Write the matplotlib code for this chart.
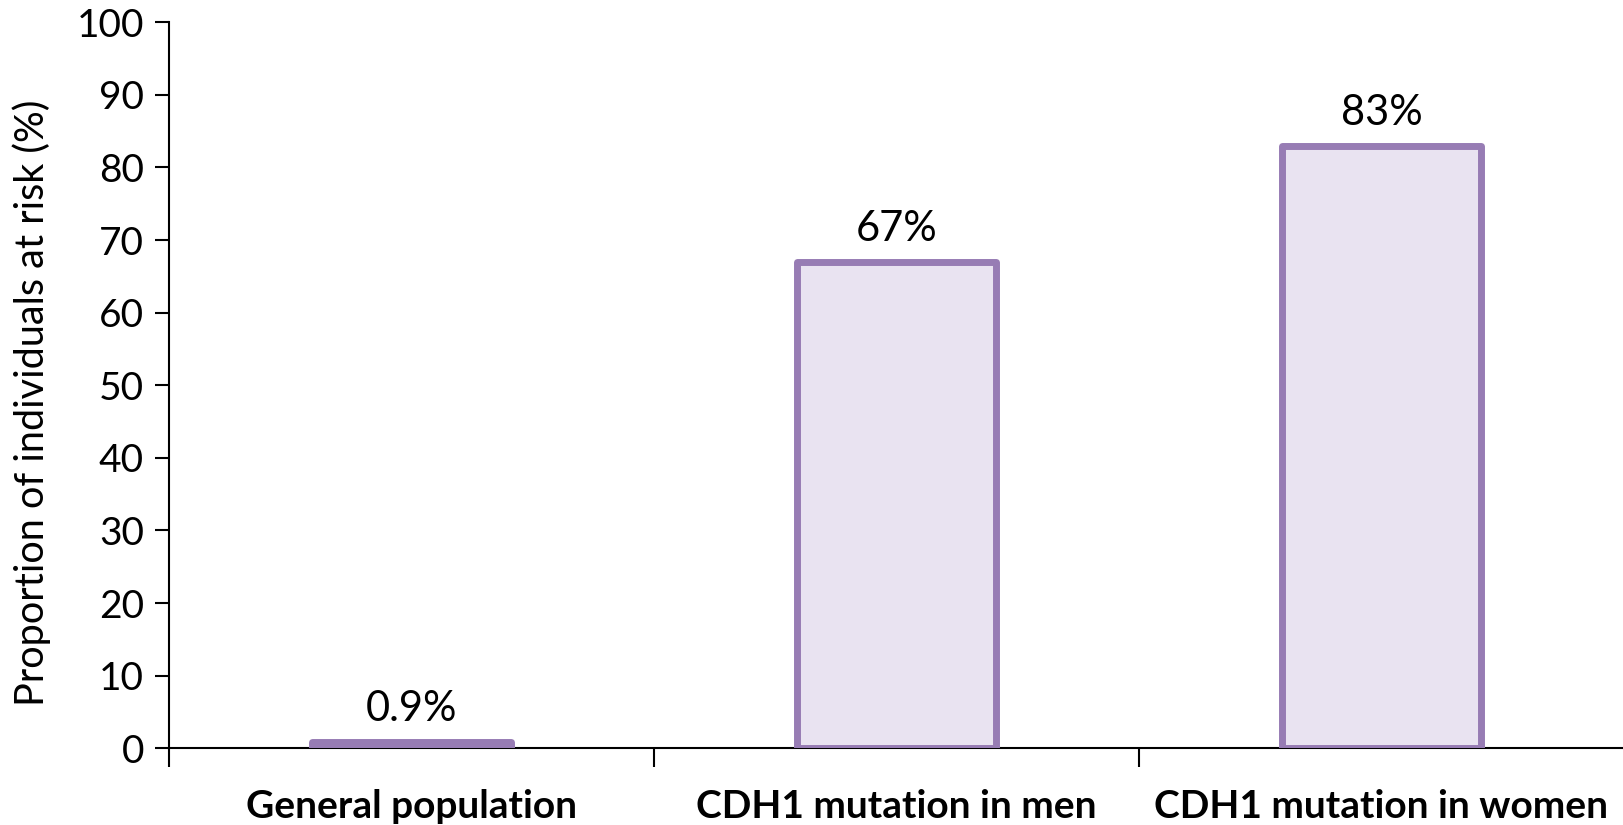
import matplotlib.pyplot as plt
import numpy as np

plt.rcParams['font.family'] = ['Lato', 'DejaVu Sans']

categories = ['General population', 'CDH1 mutation in men', 'CDH1 mutation in women']
risk_pct = [0.9, 67, 83]
value_labels = ['0.9%', '67%', '83%']
y_ticks = list(range(0, 101, 10))

fig = plt.figure(figsize=(16.24, 8.25), dpi=100)
ax = fig.add_axes([0.104, 0.093, 0.896, 0.880])

x = np.arange(len(categories))
bars = ax.bar(x, risk_pct, width=0.41, color='#e9e3f1', edgecolor='#977cb4',
              linewidth=5, joinstyle='round', zorder=3)
ax.bar_label(bars, labels=value_labels, padding=10, fontsize=30)

ax.set_xlim(-0.5, 2.5)
ax.set_ylim(0, 100)
ax.set_yticks(y_ticks)
ax.tick_params(axis='y', labelsize=28, length=10, width=1.5, direction='out', pad=8)

# boundaries get the tick marks, category names sit on minor ticks
ax.set_xticks([-0.5, 0.5, 1.5])
ax.set_xticklabels([])
ax.tick_params(axis='x', which='major', length=14, width=1.5, direction='out')
ax.set_xticks(x, minor=True)
ax.set_xticklabels(categories, minor=True, fontsize=28, fontweight='bold')
ax.tick_params(axis='x', which='minor', length=0, pad=29)

ax.set_ylabel('Proportion of individuals at risk (%)', fontsize=28.5)
ax.yaxis.set_label_coords(-0.081, 0.476)

for s in ['top', 'right']:
    ax.spines[s].set_visible(False)
for s in ['left', 'bottom']:
    ax.spines[s].set_linewidth(1.5)

fig.savefig('out.png', dpi=100)
